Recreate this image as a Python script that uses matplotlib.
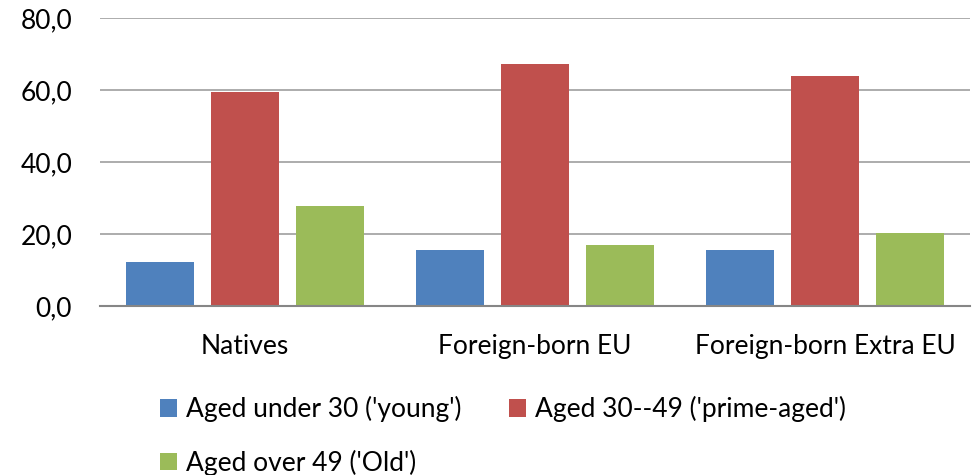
import matplotlib.pyplot as plt
import numpy as np

# share of each age group by origin
groups = ['Natives', 'Foreign-born EU', 'Foreign-born Extra EU']
series = ["Aged under 30 ('young')", "Aged 30--49 ('prime-aged')", "Aged over 49 ('Old')"]
young = [12.1, 15.5, 15.5]
prime = [59.4, 67.3, 63.8]
old = [27.7, 16.9, 20.2]
yticks = [0, 20, 40, 60, 80]

colors = ['#4F81BD', '#C0504D', '#9BBB59']

plt.rcParams['font.family'] = ['Lato', 'DejaVu Sans']
fs = 19

fig = plt.figure(figsize=(9.73, 4.75), dpi=100)
ax = fig.add_axes([100/973, 1 - 306/475, 870/973, 288/475])

x = np.arange(len(groups))
w = 0.234
step = 0.293
bars = []
for i, (vals, c) in enumerate(zip([young, prime, old], colors)):
    b = ax.bar(x + (i - 1) * step, vals, w, color=c, zorder=3)
    bars.append(b)

ax.set_xlim(-0.5, 2.5)
ax.set_ylim(0, 80)
ax.set_yticks(yticks)
ax.set_yticklabels([('%.1f' % v).replace('.', ',') for v in yticks], fontsize=fs)
ax.set_xticks(x)
ax.set_xticklabels(groups, fontsize=fs)
ax.tick_params(length=0)
ax.tick_params(axis='x', pad=20)
ax.tick_params(axis='y', pad=20)
ax.grid(axis='y', color='#A6A6A6', linewidth=1.3, zorder=0)
for s in ['top', 'right', 'left']:
    ax.spines[s].set_visible(False)
ax.spines['bottom'].set_color('#868686')
ax.spines['bottom'].set_linewidth(1.5)
ax.spines['bottom'].set_zorder(4)

# row-wise order: young, prime on first row, old below
handles = [bars[0], bars[2], bars[1]]
labels = [series[0], series[2], series[1]]
fig.legend(handles, labels, ncol=2, loc='upper left', bbox_to_anchor=(160/973, 1 - 396/475),
           frameon=False, fontsize=fs, borderpad=0, borderaxespad=0,
           handlelength=0.64, handleheight=0.64,
           handletextpad=0.34, columnspacing=1.82, labelspacing=1.05)

fig.savefig('out.png', dpi=100)
